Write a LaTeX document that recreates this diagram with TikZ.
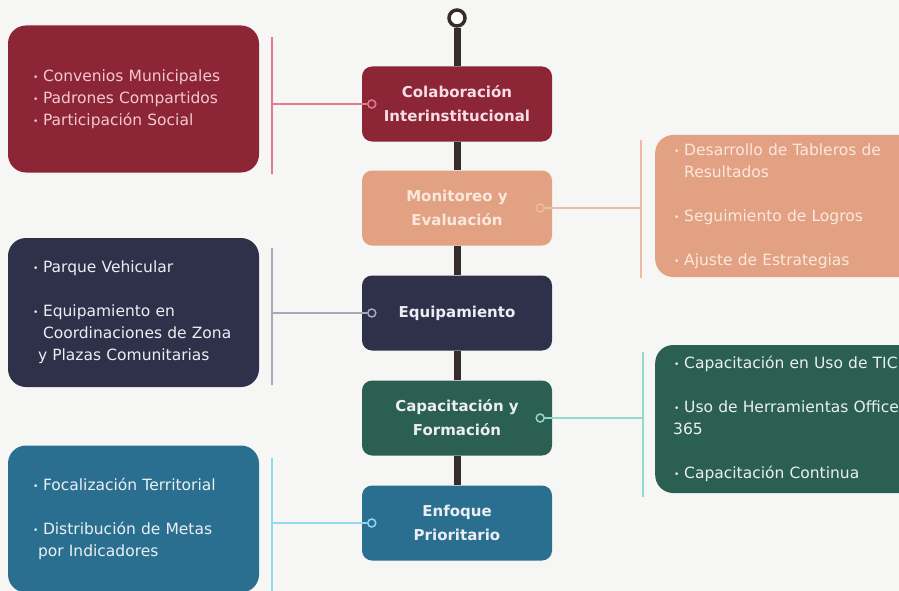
\documentclass[tikz,border=0pt]{standalone}
\usepackage{fontspec}
\setmainfont{DejaVu Sans}
\usetikzlibrary{shapes,positioning}

\definecolor{paper}{HTML}{F6F6F5}
\definecolor{spinedark}{HTML}{372C2C}
\definecolor{colabred}{HTML}{8C2637}
\definecolor{monpeach}{HTML}{E2A183}
\definecolor{equipnavy}{HTML}{2E3149}
\definecolor{capgreen}{HTML}{2A5F51}
\definecolor{focusblue}{HTML}{2A6F90}
\definecolor{lnred}{HTML}{E57A8E}
\definecolor{lnpeach}{HTML}{EDBBA4}
\definecolor{lnnavy}{HTML}{A7AABB}
\definecolor{lngreen}{HTML}{93D9CB}
\definecolor{lnblue}{HTML}{92D8EE}
\definecolor{txred}{HTML}{F4C8D0}
\definecolor{txpeach}{HTML}{FBE8DD}
\definecolor{txlight}{HTML}{ECEEF3}

\newcommand{\bul}{\makebox[11pt][l]{\hspace*{1pt}\raisebox{1pt}{\fontsize{9}{9}\selectfont\textbullet}}}

\begin{document}
\begin{tikzpicture}[x=1pt,y=-1pt]

  \useasboundingbox (0,0) rectangle (899,591);
  \fill[paper] (0,0) rectangle (899,591);
  \clip (0,0) rectangle (899,591);

  \coordinate (Top) at (457,18);
  \coordinate (Colab) at (457,104);
  \coordinate (Monitor) at (457,208);
  \coordinate (Equip) at (457,313);
  \coordinate (Capac) at (457,418);
  \coordinate (Focus) at (457,523);

  \coordinate (ColabList) at (133.5,99);
  \coordinate (EquipList) at (133.5,312.5);
  \coordinate (FocusList) at (133.5,519);
  \coordinate (MonitorList) at (655,206);
  \coordinate (CapacList) at (655,419);

  \coordinate (RedTop) at (272,37);   \coordinate (RedBot) at (272,174);
  \coordinate (NavyTop) at (272,248); \coordinate (NavyBot) at (272,385);
  \coordinate (BlueTop) at (272,458); \coordinate (BlueBot) at (272,600);
  \coordinate (PeachTop) at (641,140); \coordinate (PeachBot) at (641,278);
  \coordinate (GreenTop) at (643,352); \coordinate (GreenBot) at (643,497);

  \tikzstyle{cbox}=[shape=rectangle,rounded corners=10pt,
                    minimum width=190pt,minimum height=75pt,
                    inner sep=0pt,align=center,
                    font=\fontsize{15}{24}\selectfont\bfseries];
  \tikzstyle{lbox}=[shape=rectangle,rounded corners=18pt,
                    text width=203pt,inner xsep=24pt,inner ysep=0pt,
                    minimum height=147pt,align=left,
                    font=\fontsize{15.5}{22}\selectfont];
  \tikzstyle{rbox}=[lbox,text width=240pt,inner xsep=18pt,anchor=west];
  \tikzstyle{dot}=[shape=circle,draw,line width=1.5pt,
                   minimum size=8pt,inner sep=0pt];
  \tikzstyle{link}=[line width=1.5pt];
  \tikzstyle{spine}=[line width=7pt,color=spinedark];

  \node[shape=circle,draw=spinedark,line width=3.5pt,fill=white,
        minimum size=16pt,inner sep=0pt] (TopRing) at (Top) {};

  % central column
  \node[cbox,fill=colabred,text=txred!60!white] (ColabBox) at (Colab)
       {Colaboración\\Interinstitucional};
  \draw[spine] (TopRing) -- (ColabBox);

  \node[cbox,fill=monpeach,text=txpeach] (MonitorBox) at (Monitor)
       {Monitoreo y\\Evaluación};
  \draw[spine] (ColabBox) -- (MonitorBox);

  \node[cbox,fill=equipnavy,text=txlight] (EquipBox) at (Equip)
       {Equipamiento};
  \draw[spine] (MonitorBox) -- (EquipBox);

  \node[cbox,fill=capgreen,text=txlight] (CapacBox) at (Capac)
       {Capacitación y\\Formación};
  \draw[spine] (EquipBox) -- (CapacBox);

  \node[cbox,fill=focusblue,text=txlight] (FocusBox) at (Focus)
       {Enfoque\\Prioritario};
  \draw[spine] (CapacBox) -- (FocusBox);

  % left lists
  \node[lbox,fill=colabred,text=txred] (ColabListBox) at (ColabList)
       {\bul Convenios Municipales\\
        \bul Padrones Compartidos\\
        \bul Participación Social};
  \node[dot,draw=lnred] (ColabDot) at ([xshift=10pt]ColabBox.west) {};
  \draw[link,lnred] (RedTop) -- (RedBot);
  \draw[link,lnred] (ColabDot) -- (ColabDot -| RedTop);

  \node[lbox,fill=equipnavy,text=txlight,minimum height=149pt]
       (EquipListBox) at (EquipList)
       {\bul Parque Vehicular\\[22pt]
        \bul Equipamiento en\\
        \hspace*{11pt}Coordinaciones de Zona\\
        \hspace*{6pt}y Plazas Comunitarias};
  \node[dot,draw=lnnavy] (EquipDot) at ([xshift=10pt]EquipBox.west) {};
  \draw[link,lnnavy] (NavyTop) -- (NavyBot);
  \draw[link,lnnavy] (EquipDot) -- (EquipDot -| NavyTop);

  \node[lbox,fill=focusblue,text=txlight!85!focusblue!40!white]
       (FocusListBox) at (FocusList)
       {\bul Focalización Territorial\\[22pt]
        \bul Distribución de Metas\\
        \hspace*{6pt}por Indicadores};
  \node[dot,draw=lnblue] (FocusDot) at ([xshift=10pt]FocusBox.west) {};
  \draw[link,lnblue] (BlueTop) -- (BlueBot);
  \draw[link,lnblue] (FocusDot) -- (FocusDot -| BlueTop);

  % right lists
  \node[rbox,fill=monpeach,text=txpeach,minimum height=142pt]
       (MonitorListBox) at (MonitorList)
       {\bul Desarrollo de Tableros de\\
        \hspace*{11pt}Resultados\\[22pt]
        \bul Seguimiento de Logros\\[22pt]
        \bul Ajuste de Estrategias};
  \node[dot,draw=lnpeach] (MonitorDot) at ([xshift=-12pt]MonitorBox.east) {};
  \draw[link,lnpeach] (PeachTop) -- (PeachBot);
  \draw[link,lnpeach] (MonitorDot) -- (MonitorDot -| PeachTop);

  \node[rbox,fill=capgreen,text=txlight,minimum height=148pt]
       (CapacListBox) at (CapacList)
       {\bul Capacitación en Uso de TIC\\[22pt]
        \bul Uso de Herramientas Office\\
        365\\[22pt]
        \bul Capacitación Continua};
  \node[dot,draw=lngreen] (CapacDot) at ([xshift=-12pt]CapacBox.east) {};
  \draw[link,lngreen] (GreenTop) -- (GreenBot);
  \draw[link,lngreen] (CapacDot) -- (CapacDot -| GreenTop);

\end{tikzpicture}
\end{document}
